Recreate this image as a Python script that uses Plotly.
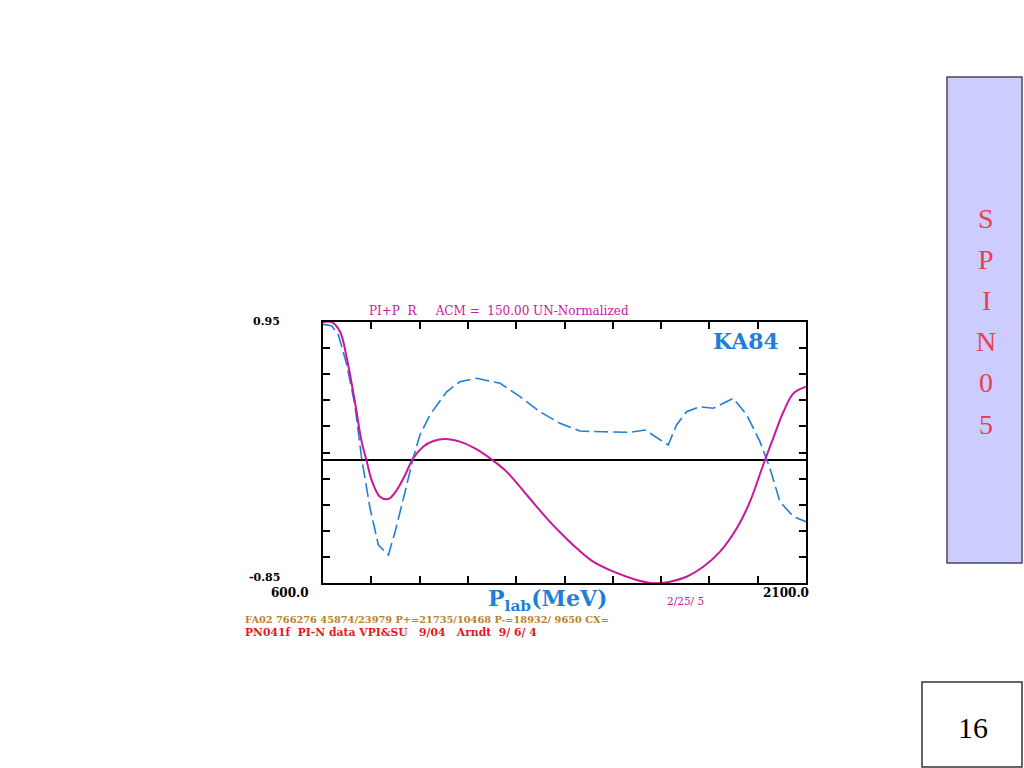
import plotly.graph_objects as go

# Data
plab_solid = [600, 627, 653, 674, 699, 720, 736, 751, 777, 803, 829, 855, 880, 911, 943, 979,
              1025, 1072, 1119, 1170, 1233, 1295, 1336, 1388, 1439, 1502, 1574, 1626, 1678,
              1729, 1781, 1833, 1885, 1926, 1967, 1998, 2030, 2061, 2100]
r_solid = [0.95, 0.95, 0.883, 0.700, 0.400, 0.125, -0.012, -0.140, -0.255, -0.271, -0.209,
           -0.105, 0.010, 0.090, 0.129, 0.143, 0.125, 0.079, 0.010, -0.082, -0.243, -0.404,
           -0.500, -0.611, -0.703, -0.772, -0.829, -0.852, -0.841, -0.807, -0.738, -0.634,
           -0.473, -0.289, -0.036, 0.148, 0.331, 0.458, 0.504]

plab_dash = [600, 627, 648, 674, 699, 720, 746, 772, 803, 824, 855, 880, 901, 932, 984, 1025,
             1077, 1150, 1212, 1274, 1336, 1398, 1471, 1553, 1600, 1647, 1672, 1698, 1729,
             1770, 1812, 1874, 1916, 1957, 1988, 2019, 2061, 2100]
r_dash = [0.934, 0.924, 0.860, 0.653, 0.378, 0.010, -0.333, -0.588, -0.657, -0.496, -0.220,
          0.010, 0.171, 0.309, 0.469, 0.538, 0.562, 0.527, 0.435, 0.331, 0.251, 0.198, 0.193,
          0.189, 0.205, 0.136, 0.102, 0.240, 0.331, 0.366, 0.355, 0.424, 0.309, 0.125,
          -0.059, -0.289, -0.393, -0.427]

x_ticks = [600 + 150 * i for i in range(11)]
y_ticks = [round(0.95 - 0.18 * i, 2) for i in range(11)]
side_letters = ["S", "P", "I", "N", "0", "5"]

MAG = "#c8179b"
BLUE = "#1f7fd6"
SERIF = "Liberation Serif"
WSERIF = "DejaVu Serif"

W, H = 1024, 768


def px(x):
    return x / W


def py(y):
    return 1 - y / H


fig = go.Figure()
fig.add_trace(go.Scatter(x=plab_dash, y=r_dash, mode="lines",
                         line=dict(color=BLUE, width=1.6, dash="14px,5px"),
                         hoverinfo="skip", showlegend=False))
fig.add_trace(go.Scatter(x=plab_solid, y=r_solid, mode="lines",
                         line=dict(color=MAG, width=2, shape="spline"),
                         hoverinfo="skip", showlegend=False))

fig.update_layout(
    width=W, height=H, autosize=False,
    margin=dict(l=0, r=0, t=0, b=0),
    paper_bgcolor="white", plot_bgcolor="white",
    showlegend=False,
    xaxis=dict(domain=[px(323), px(806)], range=[600, 2100], tickvals=x_ticks,
               ticks="inside", ticklen=7, tickwidth=1.5, tickcolor="black",
               showticklabels=False, showgrid=False, zeroline=False,
               showline=True, linecolor="black", linewidth=2, mirror="ticks"),
    yaxis=dict(domain=[py(583), py(322)], range=[-0.85, 0.95], tickvals=y_ticks,
               ticks="inside", ticklen=7, tickwidth=1.5, tickcolor="black",
               showticklabels=False, showgrid=False,
               zeroline=True, zerolinecolor="black", zerolinewidth=1.5,
               showline=True, linecolor="black", linewidth=2, mirror="ticks"),
)

anns = [
    dict(text="PI+P  R&nbsp;&nbsp;&nbsp;&nbsp;&nbsp;ACM =  150.00 UN-Normalized", x=px(367), y=py(311),
         xanchor="left", font=dict(family=WSERIF, size=12, color=MAG)),
    dict(text="<b>KA84</b>", x=px(711), y=py(341), xanchor="left",
         font=dict(family=WSERIF, size=22, color=BLUE)),
    dict(text="<b>0.95</b>", x=px(282), y=py(322), xanchor="right",
         font=dict(family=WSERIF, size=11, color="black")),
    dict(text="<b>-0.85</b>", x=px(282), y=py(577), xanchor="right",
         font=dict(family=WSERIF, size=11, color="black")),
    dict(text="<b>600.0</b>", x=px(311), y=py(593), xanchor="right",
         font=dict(family=WSERIF, size=12, color="black")),
    dict(text="<b>2100.0</b>", x=px(811), y=py(593), xanchor="right",
         font=dict(family=WSERIF, size=12, color="black")),
    dict(text="<b>P<sub>lab</sub>(MeV)</b>", x=px(486), y=py(600), xanchor="left",
         font=dict(family=WSERIF, size=22, color=BLUE)),
    dict(text="2/25/ 5", x=px(665), y=py(601), xanchor="left",
         font=dict(family=WSERIF, size=10.5, color=MAG)),
    dict(text="<b>FA02 766276 45874/23979 P+=21735/10468 P-=18932/ 9650 CX=</b>",
         x=px(243), y=py(619), xanchor="left",
         font=dict(family=WSERIF, size=9.8, color="#b9812c")),
    dict(text="<b>PN041f  PI-N data VPI&amp;SU&nbsp;&nbsp;&nbsp;9/04&nbsp;&nbsp;&nbsp;Arndt  9/ 6/ 4</b>",
         x=px(243), y=py(632), xanchor="left",
         font=dict(family=WSERIF, size=10.8, color="#e3191c")),
    dict(text="16", x=px(973), y=py(727), xanchor="center",
         font=dict(family=SERIF, size=30, color="black")),
]
for i, ch in enumerate(side_letters):
    anns.append(dict(text=ch, x=px(986), y=py(218 + 41.2 * i), xanchor="center",
                     font=dict(family=SERIF, size=28, color="#e8404f")))
for a in anns:
    a.update(xref="paper", yref="paper", yanchor="middle", showarrow=False)
fig.update_layout(annotations=anns)

fig.add_shape(type="rect", xref="paper", yref="paper",
              x0=px(947), x1=px(1022), y0=py(563), y1=py(77),
              fillcolor="#ccccff", line=dict(color="#4a4a5a", width=1.5), layer="below")
fig.add_shape(type="rect", xref="paper", yref="paper",
              x0=px(922), x1=px(1022), y0=py(767), y1=py(682),
              fillcolor="white", line=dict(color="#333333", width=1.5), layer="below")

fig.write_html("out.html",
               config={"displayModeBar": False},
               post_script="document.body.style.margin='0';document.body.style.overflow='hidden';")
